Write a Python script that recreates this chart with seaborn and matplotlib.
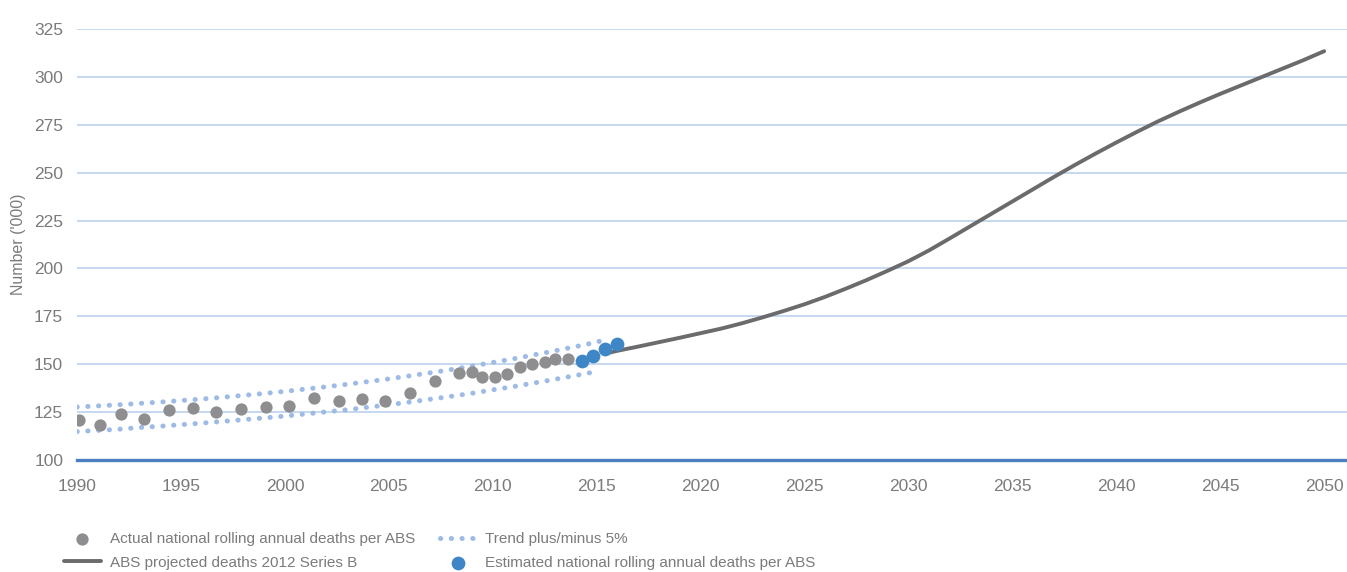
import pandas as pd
import matplotlib
matplotlib.use('Agg')
import matplotlib.pyplot as plt
import seaborn as sns

# Actual national rolling annual deaths ('000)
actual_years = [1990.1, 1991.1, 1992.1, 1993.2, 1994.4, 1995.6, 1996.7, 1997.9, 1999.1,
                2000.2, 2001.4, 2002.6, 2003.7, 2004.8, 2006.0, 2007.2, 2008.4, 2009.0,
                2009.5, 2010.1, 2010.7, 2011.3, 2011.9, 2012.5, 2013.0, 2013.6]
actual_deaths = [120.8, 118.1, 124.0, 121.5, 126.2, 126.9, 125.0, 126.8, 127.8,
                 128.2, 132.2, 130.8, 132.0, 130.8, 135.2, 141.4, 145.2, 145.7,
                 143.3, 143.3, 144.8, 148.4, 150.0, 150.9, 152.6, 152.6]

# Estimated national rolling annual deaths
est_years = [2014.3, 2014.8, 2015.4, 2016.0]
est_deaths = [151.7, 154.5, 158.1, 160.7]

# Trend plus/minus 5%
trend_years = [1990, 1991, 1992, 1993, 1994, 1995, 1996, 1997, 1998, 1999, 2000, 2001, 2002,
               2003, 2004, 2005, 2006, 2007, 2008, 2009, 2010, 2011, 2012, 2013, 2014, 2015]
trend_upper = [127.6, 128.2, 128.8, 129.5, 130.2, 131.0, 131.8, 132.7, 133.7, 134.7, 135.8,
               137.0, 138.2, 139.5, 140.9, 142.3, 143.9, 145.5, 147.2, 149.0, 150.9, 152.8,
               154.9, 157.0, 159.2, 161.5]
trend_lower = [114.8, 115.4, 116.0, 116.9, 117.6, 118.4, 119.2, 120.1, 121.0, 121.9, 122.9,
               124.0, 125.1, 126.2, 127.5, 128.8, 130.2, 131.7, 133.2, 134.8, 136.6, 138.3,
               140.2, 142.1, 144.1, 146.2]
upper_end_year = 2015.5
upper_end_value = 163.2

# ABS projected deaths 2012 Series B
proj_years = [2015.4, 2016, 2017, 2018, 2019, 2020, 2021, 2022, 2023, 2024, 2025, 2026, 2027,
              2028, 2029, 2030, 2031, 2032, 2033, 2034, 2035, 2036, 2037, 2038, 2039, 2040,
              2041, 2042, 2043, 2044, 2045, 2046, 2047, 2048, 2049, 2050]
proj_deaths = [155.5, 157.0, 159.2, 161.5, 163.8, 166.2, 168.6, 171.4, 174.5, 177.8, 181.3,
               185.2, 189.5, 194.0, 198.8, 203.8, 209.5, 215.8, 222.2, 228.6, 235.0, 241.4,
               247.8, 254.0, 260.0, 265.8, 271.4, 276.8, 281.8, 286.6, 291.2, 295.6, 300.0,
               304.4, 308.8, 313.5]

x_ticks = list(range(1990, 2051, 5))
y_ticks = list(range(100, 326, 25))

sns.set_theme(style='white')
plt.rcParams['font.family'] = ['Liberation Sans', 'DejaVu Sans']

grey_dot = '#8e8e90'
blue_dot = '#3f86c6'
trend_col = '#9dbbe6'
proj_col = '#6b6b6d'
text_col = '#7b7b7b'

fig, ax = plt.subplots(figsize=(13.47, 5.72), dpi=100)
fig.subplots_adjust(left=0.0572, right=1.0, top=0.949, bottom=0.196)

dotted = (0, (0.05, 2.1))
up_x = trend_years + [upper_end_year]
up_y = trend_upper + [upper_end_value]
sns.lineplot(x=up_x, y=up_y, ax=ax, color=trend_col, lw=3.6, linestyle=dotted,
             dash_capstyle='round', label='Trend plus/minus 5%', zorder=2)
sns.lineplot(x=trend_years, y=trend_lower, ax=ax, color=trend_col, lw=3.6, linestyle=dotted,
             dash_capstyle='round', zorder=2)
sns.scatterplot(x=actual_years, y=actual_deaths, ax=ax, color=grey_dot, s=78, linewidth=0,
                label='Actual national rolling annual deaths per ABS', zorder=3)
sns.lineplot(x=proj_years, y=proj_deaths, ax=ax, color=proj_col, lw=2.8,
             label='ABS projected deaths 2012 Series B', zorder=4)
sns.scatterplot(x=est_years, y=est_deaths, ax=ax, color=blue_dot, s=98, linewidth=0,
                label='Estimated national rolling annual deaths per ABS', zorder=5)

ax.set_xlim(1990, 2051.1)
ax.set_ylim(100, 325)
ax.set_xticks(x_ticks)
ax.set_yticks(y_ticks)
ax.tick_params(axis='both', length=0, labelsize=12.5, labelcolor=text_col)
ax.tick_params(axis='x', pad=14)
ax.tick_params(axis='y', pad=10)

ax.grid(axis='y', color='#c6d8ee', lw=1.4)
ax.grid(axis='x', visible=False)
for side in ['left', 'right', 'top']:
    ax.spines[side].set_visible(False)
ax.spines['bottom'].set_color('#4a7fc0')
ax.spines['bottom'].set_linewidth(2.4)
ax.spines['bottom'].set_zorder(6)

ax.set_ylabel("Number ('000)", fontsize=11.5, color=text_col)
ax.yaxis.set_label_coords(-0.040, 0.5)
ax.set_xlabel('')

handles, labels = ax.get_legend_handles_labels()
order = [labels.index('Actual national rolling annual deaths per ABS'),
         labels.index('ABS projected deaths 2012 Series B'),
         labels.index('Trend plus/minus 5%'),
         labels.index('Estimated national rolling annual deaths per ABS')]
ax.get_legend().remove()
leg = fig.legend([handles[i] for i in order], [labels[i] for i in order],
                 ncol=2, loc='upper left', bbox_to_anchor=(0.043, 0.08), frameon=False,
                 fontsize=11, handlelength=2.4, handletextpad=0.6, columnspacing=1.6,
                 labelspacing=0.6, borderaxespad=0)
for t in leg.get_texts():
    t.set_color(text_col)

fig.savefig('out.png', dpi=100)
